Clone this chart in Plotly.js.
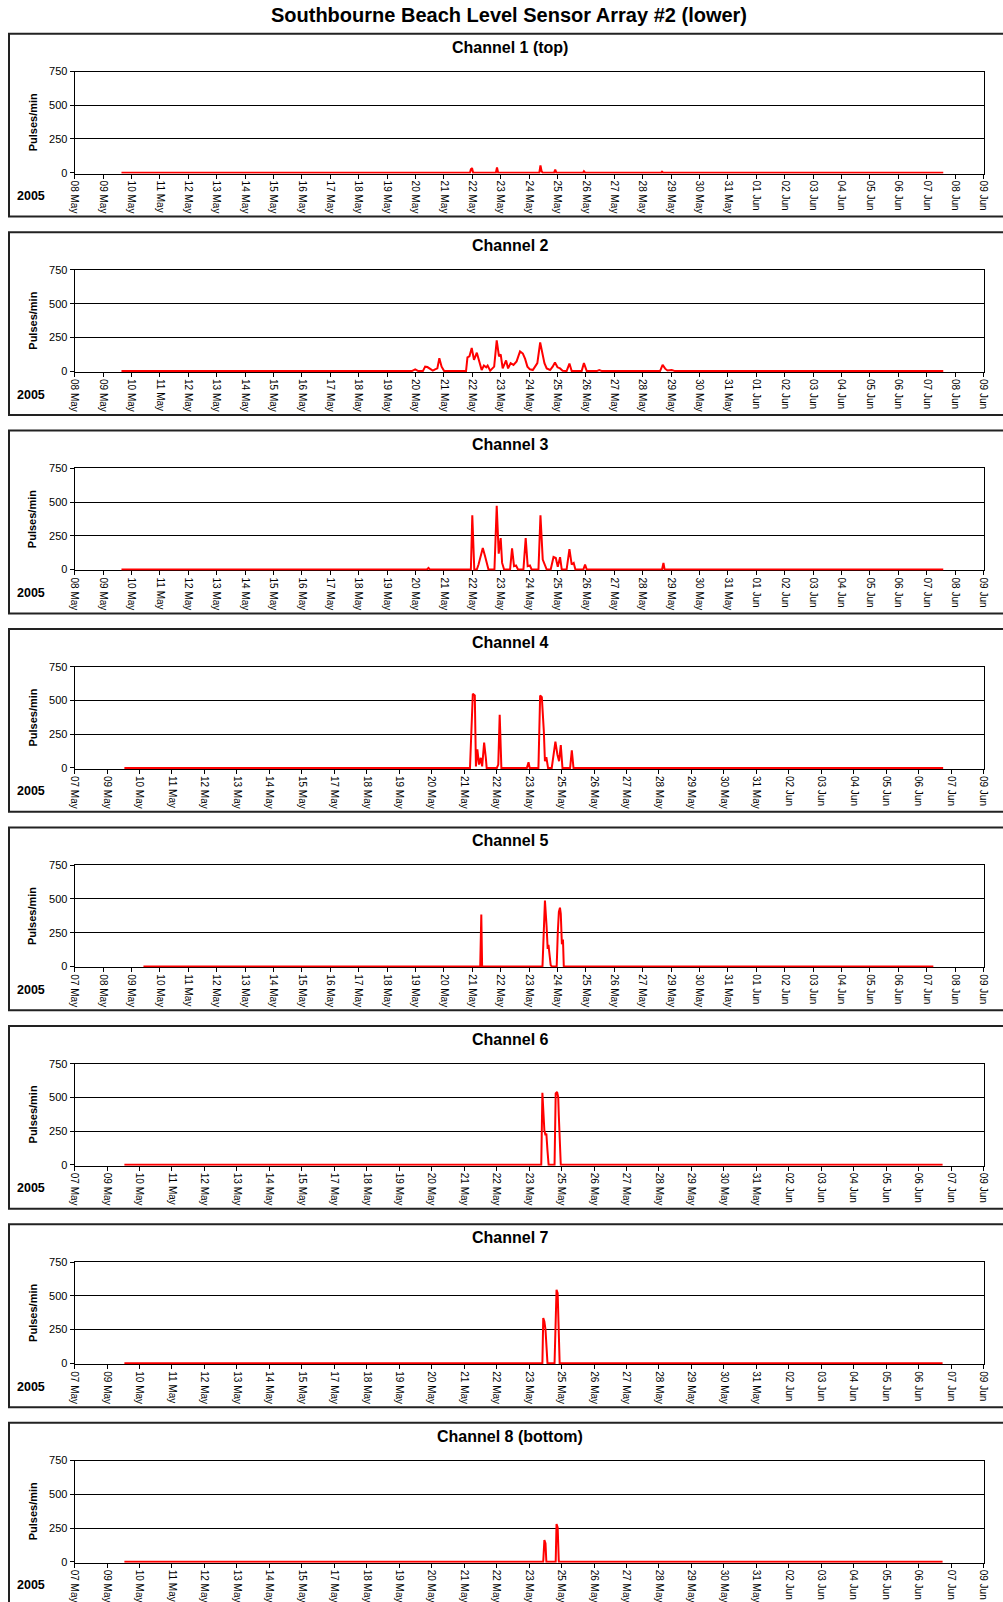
<!DOCTYPE html>
<html>
<head>
<meta charset="utf-8">
<script src="https://cdn.plot.ly/plotly-3.0.1.min.js"></script>
<style>
html,body{margin:0;padding:0;background:#fff;}
#chart{width:1003px;height:1602px;}
</style>
</head>
<body>
<div id="chart"></div>
<script>
// ---------- DATA ----------
const mainTitle = 'Southbourne Beach Level Sensor Array #2 (lower)';
const channelTitles = ['Channel 1 (top)','Channel 2','Channel 3','Channel 4','Channel 5','Channel 6','Channel 7','Channel 8 (bottom)'];
const yearLabel = '2005';
const yLabel = 'Pulses/min';
const yTickVals = [0, 250, 500, 750];

// tick label sets (Excel date axis labels), x values are "day of May 2005" (June d = 31 + d)
const labelsA = ['08 May','09 May','10 May','11 May','12 May','13 May','14 May','15 May','16 May','17 May','18 May','19 May','20 May','21 May','22 May','23 May','24 May','25 May','26 May','27 May','28 May','29 May','30 May','31 May','01 Jun','02 Jun','03 Jun','04 Jun','05 Jun','06 Jun','07 Jun','08 Jun','09 Jun'];
const labelsB = ['07 May','09 May','10 May','11 May','12 May','13 May','14 May','15 May','17 May','18 May','19 May','20 May','21 May','22 May','23 May','25 May','26 May','27 May','28 May','29 May','30 May','31 May','02 Jun','03 Jun','04 Jun','05 Jun','06 Jun','07 Jun','09 Jun'];
const labelsC = ['07 May','08 May','09 May','10 May','11 May','12 May','13 May','14 May','15 May','16 May','17 May','18 May','19 May','20 May','21 May','22 May','23 May','24 May','25 May','26 May','27 May','29 May','30 May','31 May','01 Jun','02 Jun','03 Jun','04 Jun','05 Jun','06 Jun','07 Jun','08 Jun','09 Jun'];
const rangeA = [8, 40];
const rangeB = [7.86, 40.0];
const rangeC = [7.18, 40.46];

const ch1Days = [9.65,21.92,21.95,21.99,22.03,22.83,22.87,22.91,24.36,24.40,24.44,24.48,24.88,24.92,24.96,25.90,25.93,25.97,28.65,28.68,28.72,38.58];
const ch1Vals = [0,0,25,34,0,0,39,0,0,54,10,0,0,22,0,0,10,0,0,7,0,0];

const ch2Days = [9.65,19.87,19.99,20.10,20.26,20.34,20.42,20.51,20.61,20.69,20.77,20.84,20.92,21.01,21.78,21.83,21.90,21.98,22.06,22.16,22.25,22.33,22.41,22.49,22.54,22.63,22.77,22.86,22.94,23.00,23.07,23.19,23.26,23.35,23.45,23.56,23.68,23.78,23.86,23.94,24.03,24.13,24.21,24.29,24.39,24.47,24.54,24.62,24.74,24.83,24.91,25.00,25.09,25.18,25.32,25.42,25.50,25.85,25.93,26.03,26.38,26.47,26.57,28.61,28.70,28.79,28.87,29.02,29.14,38.58];
const ch2Vals = [0,0,13,0,0,33,30,15,3,13,20,95,33,0,0,102,110,171,84,136,59,8,41,28,41,3,33,228,110,123,20,79,20,59,46,72,146,130,90,33,13,8,33,59,212,123,59,20,8,33,64,28,20,3,0,56,0,0,59,0,0,8,0,0,46,18,5,8,0,0];

const ch3Days = [9.65,20.40,20.46,20.51,21.95,22.00,22.07,22.16,22.22,22.30,22.37,22.45,22.51,22.57,22.78,22.86,22.93,23.00,23.05,23.12,23.33,23.40,23.47,23.54,23.61,23.80,23.88,23.95,24.03,24.09,24.33,24.40,24.48,24.55,24.62,24.76,24.86,24.94,25.01,25.09,25.15,25.32,25.42,25.50,25.57,25.63,25.91,25.97,26.03,28.68,28.73,28.77,38.58];
const ch3Vals = [0,0,12,0,0,403,0,0,37,110,160,98,37,0,0,472,118,233,49,0,0,157,25,30,0,0,233,25,30,0,0,403,74,37,0,0,93,86,20,91,0,0,152,37,49,0,0,37,0,0,49,0,0];

const ch4Days = [9.62,21.84,21.94,22.01,22.05,22.10,22.16,22.22,22.27,22.34,22.40,22.43,22.79,22.84,22.89,22.95,23.85,23.91,23.95,24.26,24.32,24.38,24.45,24.49,24.54,24.60,24.73,24.79,24.86,24.93,24.99,25.05,25.11,25.38,25.44,25.50,38.57];
const ch4Vals = [0,0,550,538,12,138,25,75,12,188,75,0,0,25,395,0,0,42,0,0,538,525,275,50,80,0,0,100,195,100,50,170,0,0,130,0,0];

const ch5Days = [9.70,22.03,22.07,22.10,24.31,24.35,24.40,24.46,24.50,24.53,24.57,24.61,24.65,24.83,24.87,24.91,24.95,24.98,25.02,25.06,25.09,38.62];
const ch5Vals = [0,0,385,0,0,300,488,300,130,160,60,10,0,0,250,405,435,390,165,200,0,0];

const ch6Days = [9.62,24.36,24.40,24.43,24.47,24.51,24.54,24.58,24.62,24.83,24.87,24.92,24.96,24.98,25.01,25.05,38.55];
const ch6Vals = [0,0,535,400,255,220,232,105,0,0,530,540,500,367,180,0,0];

const ch7Days = [9.62,24.40,24.43,24.47,24.51,24.54,24.58,24.83,24.87,24.90,24.94,24.98,25.01,38.55];
const ch7Vals = [0,0,335,310,250,135,0,0,470,545,520,250,0,0];

const ch8Days = [9.62,24.43,24.47,24.51,24.54,24.87,24.90,24.94,24.98,38.55];
const ch8Vals = [0,0,160,135,0,0,280,255,0,0];

// ---------- LAYOUT ----------
const W = 1003, H = 1602;
const FONT = 'Liberation Sans, Arial, Helvetica, sans-serif';
const panelTop0 = 33.7, pitch = 198.44, panelH = 182.8;
const plotTopRel = 37.8, plotH = 102.1;
const plotL = 74.6, plotR = 983.6;

const series = [
  {x: ch1Days, y: ch1Vals, labels: labelsA, range: rangeA},
  {x: ch2Days, y: ch2Vals, labels: labelsA, range: rangeA},
  {x: ch3Days, y: ch3Vals, labels: labelsA, range: rangeA},
  {x: ch4Days, y: ch4Vals, labels: labelsB, range: rangeB},
  {x: ch5Days, y: ch5Vals, labels: labelsC, range: rangeC},
  {x: ch6Days, y: ch6Vals, labels: labelsB, range: rangeB},
  {x: ch7Days, y: ch7Vals, labels: labelsB, range: rangeB},
  {x: ch8Days, y: ch8Vals, labels: labelsB, range: rangeB}
];

function py(p){ return 1 - p / H; }

const traces = [];
const layout = {
  width: W, height: H,
  margin: {l:0, r:0, t:0, b:0},
  paper_bgcolor: '#fff', plot_bgcolor: '#fff',
  showlegend: false,
  font: {family: FONT, color: '#000'},
  title: {
    text: mainTitle,
    x: 509/W, xanchor: 'center',
    y: py(14.5), yanchor: 'middle',
    font: {family: FONT, size: 20, weight: 700, color: '#000'}
  },
  shapes: [],
  annotations: []
};

series.forEach((s, i) => {
  const n = i + 1;
  const sfx = n === 1 ? '' : String(n);
  const panelTop = panelTop0 + pitch * i;
  const top = panelTop + plotTopRel, bottom = top + plotH;
  const nT = s.labels.length;
  const tickvals = s.labels.map((_, k) => s.range[0] + k * (s.range[1] - s.range[0]) / (nT - 1));

  traces.push({
    x: s.x, y: s.y, type: 'scatter', mode: 'lines',
    line: {color: '#FF0000', width: 2},
    xaxis: 'x' + sfx, yaxis: 'y' + sfx,
    hoverinfo: 'skip', showlegend: false
  });

  layout['xaxis' + sfx] = {
    domain: [plotL / W, plotR / W],
    anchor: 'y' + sfx,
    range: s.range,
    tickmode: 'array', tickvals: tickvals, ticktext: s.labels,
    tickangle: 90,
    ticks: 'outside', ticklen: 4, tickcolor: '#000', tickwidth: 1,
    showline: true, linecolor: '#000', linewidth: 1, mirror: true,
    showgrid: false, zeroline: false,
    tickfont: {family: FONT, size: 10, color: '#000'},
    layer: 'below traces', fixedrange: true
  };
  layout['yaxis' + sfx] = {
    domain: [py(bottom), py(top)],
    anchor: 'x' + sfx,
    range: [-7, 750],
    tickmode: 'array', tickvals: yTickVals,
    ticks: 'outside', ticklen: 4, tickcolor: '#000', tickwidth: 1,
    showline: true, linecolor: '#000', linewidth: 1, mirror: true,
    showgrid: true, gridcolor: '#000', gridwidth: 1,
    zeroline: false,
    tickfont: {family: FONT, size: 11, color: '#000'},
    layer: 'below traces', fixedrange: true
  };

  // panel frame
  layout.shapes.push({
    type: 'rect', xref: 'paper', yref: 'paper',
    x0: 9 / W, x1: 1.02, y0: py(panelTop + panelH), y1: py(panelTop),
    line: {color: '#222', width: 2}, fillcolor: 'rgba(0,0,0,0)', layer: 'below'
  });

  layout.annotations.push({
    text: channelTitles[i], xref: 'paper', yref: 'paper',
    x: 510 / W, y: py(panelTop + 13.5), xanchor: 'center', yanchor: 'middle',
    showarrow: false, font: {family: FONT, size: 16, weight: 700, color: '#000'}
  });
  layout.annotations.push({
    text: yLabel, xref: 'paper', yref: 'paper', textangle: -90,
    x: 32.7 / W, y: py((top + bottom) / 2), xanchor: 'center', yanchor: 'middle',
    showarrow: false, font: {family: FONT, size: 11, weight: 700, color: '#000'}
  });
  layout.annotations.push({
    text: yearLabel, xref: 'paper', yref: 'paper',
    x: 30.6 / W, y: py(panelTop + 162.4), xanchor: 'center', yanchor: 'middle',
    showarrow: false, font: {family: FONT, size: 12.5, weight: 700, color: '#000'}
  });
});

Plotly.newPlot('chart', traces, layout, {staticPlot: true, displayModeBar: false});
</script>
</body>
</html>
